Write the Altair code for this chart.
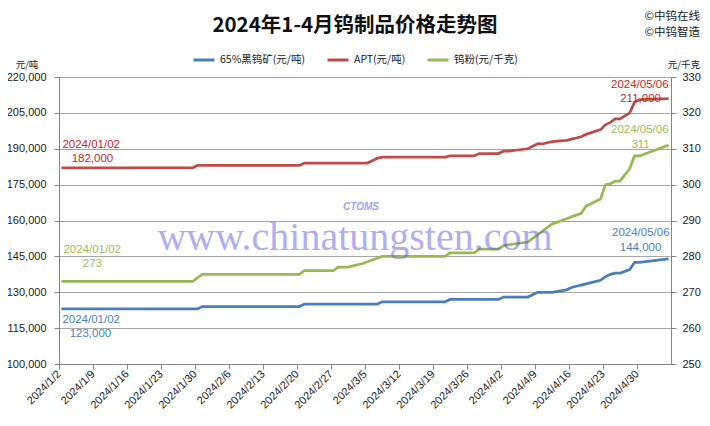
import altair as alt
import pandas as pd

# ---------------- data ----------------
apt_dates = ["2024-01-02", "2024-01-29", "2024-01-30", "2024-02-20", "2024-02-21",
             "2024-03-05", "2024-03-06", "2024-03-07", "2024-03-08", "2024-03-21",
             "2024-03-22", "2024-03-27", "2024-03-28", "2024-04-01", "2024-04-02",
             "2024-04-03", "2024-04-07", "2024-04-08", "2024-04-09", "2024-04-10",
             "2024-04-11", "2024-04-12", "2024-04-15", "2024-04-16", "2024-04-17",
             "2024-04-18", "2024-04-19", "2024-04-22", "2024-04-23", "2024-04-24",
             "2024-04-25", "2024-04-26", "2024-04-28", "2024-04-29", "2024-04-30",
             "2024-05-06"]
apt_values = [182000, 182000, 183000, 183000, 184000,
              184000, 185000, 186000, 186500, 186500,
              187000, 187000, 188000, 188000, 189000,
              189000, 190000, 191000, 192000, 192000,
              192500, 193000, 193500, 194000, 194500,
              195000, 196000, 198000, 200000, 201000,
              202500, 202500, 205000, 209500, 210500,
              211000]

ore_dates = ["2024-01-02", "2024-01-30", "2024-01-31", "2024-02-20", "2024-02-21",
             "2024-03-07", "2024-03-08", "2024-03-21", "2024-03-22", "2024-04-01",
             "2024-04-02", "2024-04-07", "2024-04-08", "2024-04-09", "2024-04-12",
             "2024-04-15", "2024-04-16", "2024-04-17", "2024-04-18", "2024-04-19",
             "2024-04-22", "2024-04-23", "2024-04-24", "2024-04-25", "2024-04-26",
             "2024-04-28", "2024-04-29", "2024-04-30", "2024-05-06"]
ore_values = [123000, 123000, 124000, 124000, 125000,
              125000, 126000, 126000, 127000, 127000,
              128000, 128000, 129000, 130000, 130000,
              131000, 132000, 132500, 133000, 133500,
              135000, 136500, 137500, 138000, 138000,
              139500, 142500, 142500, 144000]

powder_dates = ["2024-01-02", "2024-01-29", "2024-01-30", "2024-01-31", "2024-02-20",
                "2024-02-21", "2024-02-27", "2024-02-28", "2024-03-01", "2024-03-04",
                "2024-03-05", "2024-03-06", "2024-03-07", "2024-03-08", "2024-03-21",
                "2024-03-22", "2024-03-27", "2024-03-28", "2024-04-01", "2024-04-02",
                "2024-04-07", "2024-04-08", "2024-04-09", "2024-04-10", "2024-04-11",
                "2024-04-12", "2024-04-15", "2024-04-16", "2024-04-17", "2024-04-18",
                "2024-04-19", "2024-04-22", "2024-04-23", "2024-04-24", "2024-04-25",
                "2024-04-26", "2024-04-28", "2024-04-29", "2024-04-30", "2024-05-06"]
powder_values = [273, 273, 274, 275, 275,
                 276, 276, 277, 277, 278,
                 278.5, 279, 279.5, 280, 280,
                 281, 281, 282, 282, 283,
                 284, 285, 286, 287, 288,
                 289, 290.5, 291, 291.5, 292,
                 294, 296, 300, 300.2, 301,
                 301, 304.5, 308, 308, 311]

series_names = ["65%黑钨矿(元/吨)", "APT(元/吨)", "钨粉(元/千克)"]
series_colors = ["#4A7EBB", "#BE4B48", "#98B954"]
label_colors = ["#4F81BD", "#C0282D", "#9BBB59"]

x_tick_dates = ["2024-01-02", "2024-01-09", "2024-01-16", "2024-01-23", "2024-01-30",
                "2024-02-06", "2024-02-13", "2024-02-20", "2024-02-27", "2024-03-05",
                "2024-03-12", "2024-03-19", "2024-03-26", "2024-04-02", "2024-04-09",
                "2024-04-16", "2024-04-23", "2024-04-30"]
x_domain = ["2024-01-02", "2024-05-07"]
left_ticks = [100000, 115000, 130000, 145000, 160000, 175000, 190000, 205000, 220000]
right_ticks = [250, 260, 270, 280, 290, 300, 310, 320, 330]

title_text = "2024年1-4月钨制品价格走势图"
brand_lines = ["©中钨在线", "©中钨智造"]
left_unit = "元/吨"
right_unit = "元/千克"
watermark = "www.chinatungsten.com"

LATIN = "Liberation Sans"
CJK = "Noto Sans CJK SC"


def dt(s):
    y, m, d = (int(p) for p in s.split("-"))
    return alt.DateTime(year=y, month=m, date=d)


def frame(dates, values, name):
    return pd.DataFrame({"date": [d + "T12:00:00" for d in dates],
                         "value": values, "series": name})


def x_enc():
    return alt.X("date:T", title=None,
                 scale=alt.Scale(domain=[dt(x_domain[0]), dt(x_domain[1])]),
                 axis=alt.Axis(values=[dt(s) for s in x_tick_dates], format="%Y/%-m/%-d",
                               labelAngle=-45, labelAlign="right", labelBaseline="middle",
                               tickSize=5, labelPadding=3, grid=False, labelOverlap=False,
                               labelFlush=False, labelBound=False))


def y_left():
    return alt.Y("value:Q", title=None,
                 scale=alt.Scale(domain=[left_ticks[0], left_ticks[-1]], nice=False, zero=False),
                 axis=alt.Axis(orient="left", values=left_ticks, format=",d", grid=True,
                               tickSize=5, labelPadding=8, labelFlush=False))


def y_right():
    return alt.Y("value:Q", title=None,
                 scale=alt.Scale(domain=[right_ticks[0], right_ticks[-1]], nice=False, zero=False),
                 axis=alt.Axis(orient="right", values=right_ticks, format="d", grid=False,
                               tickSize=5, labelPadding=6, labelFlush=False))


legend = alt.Legend(orient="none", legendX=133, legendY=-29, direction="horizontal", title=None,
                    symbolType="stroke", symbolSize=441, symbolStrokeWidth=3,
                    labelFont=CJK, labelFontSize=10.5, labelColor="#1A1A1A", labelOffset=4,
                    columnPadding=15, labelLimit=300, padding=0)


def color_enc():
    return alt.Color("series:N", scale=alt.Scale(domain=series_names, range=series_colors),
                     legend=legend)


def line(df, yfun):
    return alt.Chart(df).mark_line(strokeWidth=2.75).encode(
        x=x_enc(), y=yfun(), color=color_enc(), order=alt.Order("date:T"))


def annot(date, value, text, color, align, dx, dy, yfun):
    df = pd.DataFrame({"date": [date + "T12:00:00"], "value": [value], "t": [text]})
    return alt.Chart(df).mark_text(align=align, baseline="middle", dx=dx, dy=dy,
                                   font=LATIN, fontSize=11.5, color=color).encode(
        x=x_enc(), y=yfun(), text="t:N")


def fmt(v):
    return f"{int(v):,}" if v >= 1000 else f"{v:g}"


ore_df = frame(ore_dates, ore_values, series_names[0])
apt_df = frame(apt_dates, apt_values, series_names[1])
powder_df = frame(powder_dates, powder_values, series_names[2])

left_layers = [line(ore_df, y_left), line(apt_df, y_left)]
# start / end annotations
left_layers += [
    annot(apt_dates[0], apt_values[0], apt_dates[0].replace("-", "/"), label_colors[1], "left", 1, -23, y_left),
    annot(apt_dates[0], apt_values[0], fmt(apt_values[0]), label_colors[1], "center", 31, -9, y_left),
    annot(apt_dates[-1], apt_values[-1], apt_dates[-1].replace("-", "/"), label_colors[1], "right", 0, -14, y_left),
    annot(apt_dates[-1], apt_values[-1], fmt(apt_values[-1]), label_colors[1], "center", -28, 0, y_left),
    annot(ore_dates[0], ore_values[0], ore_dates[0].replace("-", "/"), label_colors[0], "left", 1, 11, y_left),
    annot(ore_dates[0], ore_values[0], fmt(ore_values[0]), label_colors[0], "center", 29, 25, y_left),
    annot(ore_dates[-1], ore_values[-1], ore_dates[-1].replace("-", "/"), label_colors[0], "right", 1, -26, y_left),
    annot(ore_dates[-1], ore_values[-1], fmt(ore_values[-1]), label_colors[0], "center", -28, -11, y_left),
]
right_layers = [line(powder_df, y_right),
    annot(powder_dates[0], powder_values[0], powder_dates[0].replace("-", "/"), label_colors[2], "left", 2, -31, y_right),
    annot(powder_dates[0], powder_values[0], fmt(powder_values[0]), label_colors[2], "center", 31, -17, y_right),
    annot(powder_dates[-1], powder_values[-1], powder_dates[-1].replace("-", "/"), label_colors[2], "right", 0, -15, y_right),
    annot(powder_dates[-1], powder_values[-1], fmt(powder_values[-1]), label_colors[2], "center", -28, 0, y_right),
]

left_group = alt.layer(*left_layers)
right_group = alt.layer(*right_layers)


def deco(text, px, py, size, font=CJK, weight="normal", align="center", color="#1A1A1A",
         baseline="middle", opacity=1.0, italic=False):
    return alt.Chart(pd.DataFrame({"t": [text]})).mark_text(
        font=font, fontSize=size, fontWeight=weight, align=align, baseline=baseline,
        color=color, opacity=opacity, fontStyle="italic" if italic else "normal").encode(
        x=alt.value(px), y=alt.value(py), text="t:N")


decor = [
    deco(title_text, 296, -51, 20.5, weight="bold", color="#111111"),
    deco(brand_lines[0], 641, -60, 11.5, align="right"),
    deco(brand_lines[1], 641, -44, 11.5, align="right"),
    deco(left_unit, -32, -12, 9.5),
    deco(right_unit, 641, -12, 9.5, align="right"),
    deco(watermark, 296, 173, 40, font="Liberation Serif", color="#5050E0",
         baseline="alphabetic", opacity=0.45),
    deco("CTOMS", 302, 130, 10, font=LATIN, weight="bold", color="#6F80F0",
         opacity=0.7, italic=True),
]

chart = alt.layer(left_group, right_group, *decor).resolve_scale(y="independent").properties(
    width=612, height=287,
    padding={"left": 51, "top": 69, "right": 31, "bottom": 50},
    autosize=alt.AutoSizeParams(type="none"),
    background="white",
).configure_view(stroke=None).configure_axis(
    labelFont=LATIN, labelFontSize=11, labelColor="#1A1A1A",
    domainColor="#868686", tickColor="#868686", gridColor="#A6A6A6",
    domainWidth=1, tickWidth=1, gridWidth=1,
)

chart.save("out.html", embed_options={"renderer": "svg", "actions": False})
